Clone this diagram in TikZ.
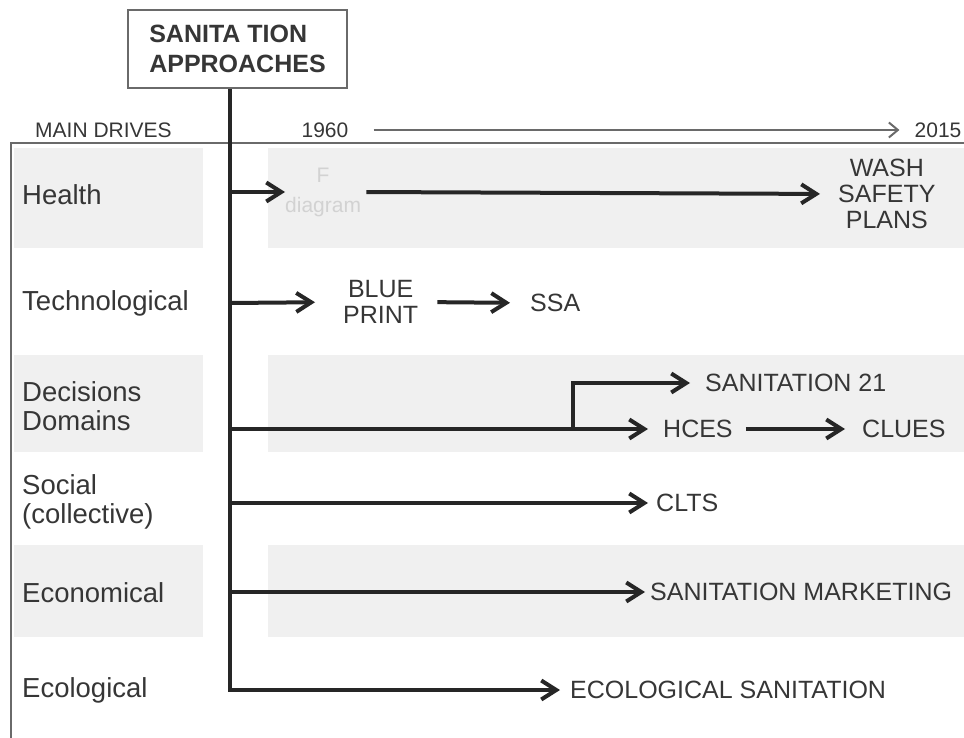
\documentclass[tikz,border=0pt]{standalone}
\usepackage{fontspec}
\setmainfont{Liberation Sans}
\usetikzlibrary{arrows.meta}

\definecolor{ink}{HTML}{363636}
\definecolor{dark}{HTML}{262626}
\definecolor{rule}{HTML}{6A6A6A}
\definecolor{band}{HTML}{F0F0F0}
\definecolor{faint}{HTML}{D2D2D2}

\begin{document}
\begin{tikzpicture}[x=1pt,y=-1pt,
  drive/.style={font=\fontsize{27.5}{29}\selectfont, text=ink, inner sep=0, anchor=west, align=left},
  approach/.style={font=\fontsize{25}{26}\selectfont, text=ink, inner sep=0, anchor=west, align=center},
  header/.style={font=\fontsize{21}{24}\selectfont, text=ink, inner sep=0},
  titlebox/.style={draw=rule, line width=2.5pt, minimum width=219pt, minimum height=78pt,
    font=\fontsize{25}{30}\selectfont\bfseries, text=ink, align=left, inner sep=0},
  arr/.style={draw=dark, line width=4pt, -{Straight Barb[length=15pt,width=19pt]}},
  timeline/.style={draw=rule, line width=2pt, -{Straight Barb[length=9pt,width=15pt]}},
  bandfill/.style={fill=band, draw=none}
]
\useasboundingbox (0,0) rectangle (964,738);

% shaded row bands
\foreach \ya/\yb in {148/248, 355/452, 545/637} {
  \path[bandfill] (14,\ya) rectangle (203,\yb);
  \path[bandfill] (268,\ya) rectangle (964,\yb);
}

% frame of the table
\draw[rule, line width=2pt] (964,143) -- (11,143) -- (11,738);

% header
\node[titlebox] (title) at (237.5,49) {SANITA TION\\APPROACHES};
\node[header, anchor=west] (drives) at (35,130) {MAIN DRIVES};
\node[header] (y1960) at (325,130) {1960};
\node[header] (y2015) at (938,130) {2015};
\draw[timeline, shorten <=25pt, shorten >=15pt] (y1960.east) -- (y2015.west);

% main drives
\node[drive] (health) at (22,195) {Health};
\node[drive] (tech) at (22,303) {Technological};
\node[drive] (dec) at (22,406) {Decisions\\Domains};
\node[drive] (soc) at (22,502) {Social\\(collective)};
\node[drive] (econ) at (22,593) {Economical};
\node[drive] (eco) at (22,690) {Ecological};

% approaches
\node[approach, text=faint, font=\fontsize{21}{30}\selectfont] (fd) at (285,192) {F\\diagram};
\node[approach] (wash) at (838,194) {WASH\\SAFETY\\PLANS};
\node[approach] (blue) at (343,302) {BLUE\\PRINT};
\node[approach] (ssa) at (530,303) {SSA};
\node[approach] (s21) at (705,383) {SANITATION 21};
\node[approach] (hces) at (663,429) {HCES};
\node[approach] (clues) at (862,429) {CLUES};
\node[approach] (clts) at (656,503) {CLTS};
\node[approach] (mkt) at (650,592) {SANITATION MARKETING};
\node[approach] (ecosan) at (570,690) {ECOLOGICAL SANITATION};

% branch points on the trunk
\coordinate (t1) at (230,192);
\coordinate (t2) at (230,303);
\coordinate (t3) at (230,429);
\coordinate (t4) at (230,503);
\coordinate (t5) at (230,592);
\coordinate (split) at (573,429);

% trunk, ending in the ecological branch
\draw[dark, line width=4pt] (title.south -| t1) -- (t1);
\draw[arr, shorten >=10pt] (title.south -| t1) |- (ecosan.west);

% branches
\draw[arr] (t1) -- (fd.west);
\draw[arr, shorten <=5pt, shorten >=18pt] (fd.east) -- (wash.west);
\draw[arr, shorten >=28pt] (t2) -- (blue.west);
\draw[arr, shorten <=19pt, shorten >=20pt] (blue.east) -- (ssa.west);
\draw[arr, shorten >=15pt] (t3) -- (hces.west);
\draw[arr, shorten >=15pt] (split) |- (s21.west);
\draw[arr, shorten <=13pt, shorten >=17pt] (hces.east) -- (clues.west);
\draw[arr, shorten >=8pt] (t4) -- (clts.west);
\draw[arr, shorten >=5pt] (t5) -- (mkt.west);
\end{tikzpicture}
\end{document}
